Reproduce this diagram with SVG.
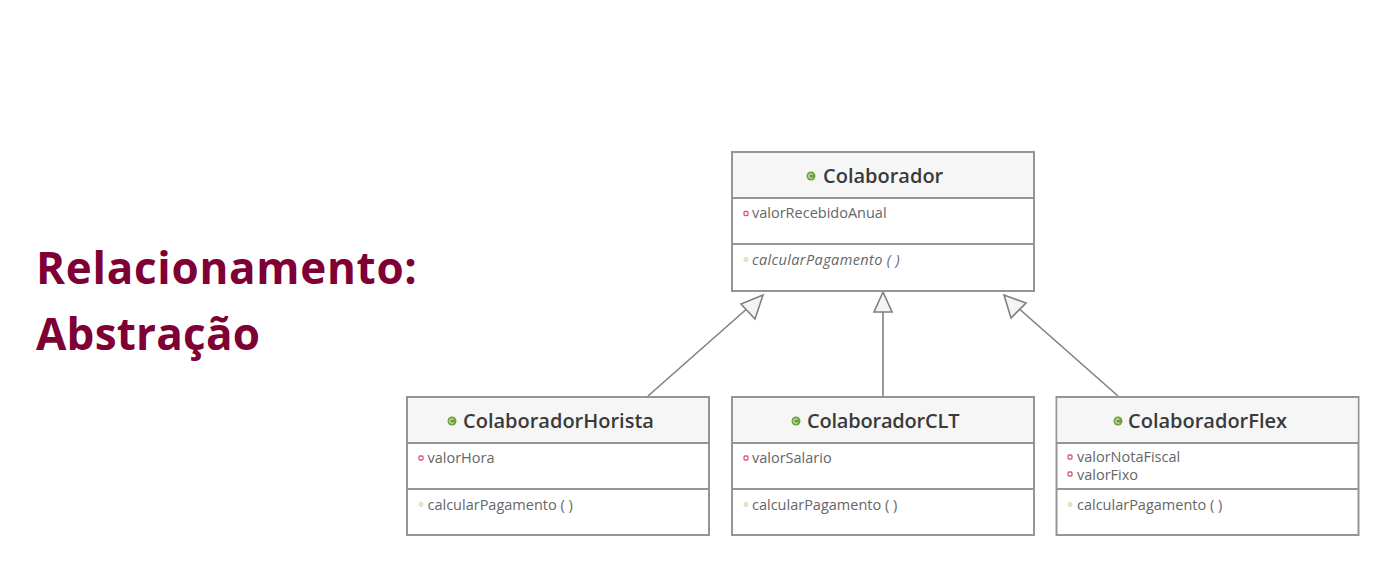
<svg xmlns="http://www.w3.org/2000/svg" width="1393" height="574" viewBox="0 0 1393 574">
<style>
.box{fill:#fff;stroke:#959595;stroke-width:2}
.head{fill:#f6f6f6}
.div{stroke:#959595;stroke-width:2;fill:none}
.name{font-family:"Open Sans","Noto Sans",sans-serif;font-size:20px;font-weight:600;fill:#3a3a3a}
.m{font-family:"Open Sans","Noto Sans",sans-serif;font-size:14.5px;fill:#666}
.ic{fill:#70a040}
.ici{fill:none;stroke:#d4e6c0;stroke-width:1.1}
.pv{fill:#fff;stroke:#e0557c;stroke-width:1.3}
.pb{fill:#e6edcf;stroke:#c9d6a6;stroke-width:.8}
.title{font-family:"Open Sans","Noto Sans",sans-serif;font-size:44px;font-weight:700;fill:#7f0035}
.conn{stroke:#808080;stroke-width:1.6;fill:none}
.arr{fill:#f4f4f4;stroke:#808080;stroke-width:1.6;stroke-linejoin:miter}
</style>
<rect width="1393" height="574" fill="#fff"/>
<g id="title">
<text class="title" x="36" y="284" letter-spacing="0.72">Relacionamento:</text>
<text class="title" x="36" y="350" letter-spacing="0.22">Abstração</text>
</g>
<g id="connectors">
<line class="conn" x1="648" y1="396" x2="750" y2="306"/>
<polygon class="arr" points="763,295 741,304 755,319"/>
<line class="conn" x1="883" y1="396" x2="883" y2="312"/>
<polygon class="arr" points="883,292 874,312 892,312"/>
<line class="conn" x1="1118" y1="396" x2="1016" y2="306"/>
<polygon class="arr" points="1004,295 1011,318 1026,303"/>
</g>
<g id="Colaborador">
<rect class="box" x="732" y="152" width="302" height="139"/>
<rect class="head" x="733" y="153" width="300" height="45"/>
<path class="div" d="M732 198H1034M732 244H1034"/>
<circle class="ic" cx="811" cy="176" r="4.5"/><path class="ici" d="M812.500 174.500a2.200 2.200 0 1 0 0 3"/>
<text class="name" x="823" y="182.500">Colaborador</text>
<rect class="pv" x="744" y="211.500" width="4" height="4" rx="1"/>
<text class="m" x="752" y="218">valorRecebidoAnual</text>
<circle class="pb" cx="746" cy="259.500" r="2"/>
<text class="m" x="752" y="265" font-style="italic" letter-spacing="0.38">calcularPagamento ( )</text>
</g>
<g id="ColaboradorHorista">
<rect class="box" x="407" y="397" width="302" height="138"/>
<rect class="head" x="408" y="398" width="300" height="45"/>
<path class="div" d="M407 443H709M407 489H709"/>
<circle class="ic" cx="452" cy="421" r="4.500"/><path class="ici" d="M453.500 419.500a2.200 2.200 0 1 0 0 3"/>
<text class="name" x="463" y="427.500">ColaboradorHorista</text>
<rect class="pv" x="419" y="456" width="4" height="4" rx="1"/>
<text class="m" x="427.500" y="463">valorHora</text>
<circle class="pb" cx="421" cy="504.500" r="2"/>
<text class="m" x="427.500" y="510">calcularPagamento ( )</text>
</g>
<g id="ColaboradorCLT">
<rect class="box" x="732" y="397" width="302" height="138"/>
<rect class="head" x="733" y="398" width="300" height="45"/>
<path class="div" d="M732 443H1034M732 489H1034"/>
<circle class="ic" cx="796" cy="421" r="4.500"/><path class="ici" d="M797.500 419.500a2.200 2.200 0 1 0 0 3"/>
<text class="name" x="807" y="427.500" letter-spacing="-0.2">ColaboradorCLT</text>
<rect class="pv" x="744" y="456" width="4" height="4" rx="1"/>
<text class="m" x="752" y="463">valorSalario</text>
<circle class="pb" cx="746" cy="504.500" r="2"/>
<text class="m" x="752" y="510">calcularPagamento ( )</text>
</g>
<g id="ColaboradorFlex">
<rect class="box" x="1056.500" y="397" width="302" height="138"/>
<rect class="head" x="1057.500" y="398" width="300" height="45"/>
<path class="div" d="M1056.500 443H1358.500M1056.500 489H1358.500"/>
<circle class="ic" cx="1118" cy="421" r="4.500"/><path class="ici" d="M1119.500 419.500a2.200 2.200 0 1 0 0 3"/>
<text class="name" x="1128" y="427.500">ColaboradorFlex</text>
<rect class="pv" x="1068" y="455" width="4" height="4" rx="1"/>
<text class="m" x="1077" y="462">valorNotaFiscal</text>
<rect class="pv" x="1068" y="472" width="4" height="4" rx="1"/>
<text class="m" x="1077" y="480">valorFixo</text>
<circle class="pb" cx="1070" cy="504.500" r="2"/>
<text class="m" x="1077" y="510">calcularPagamento ( )</text>
</g>
</svg>
